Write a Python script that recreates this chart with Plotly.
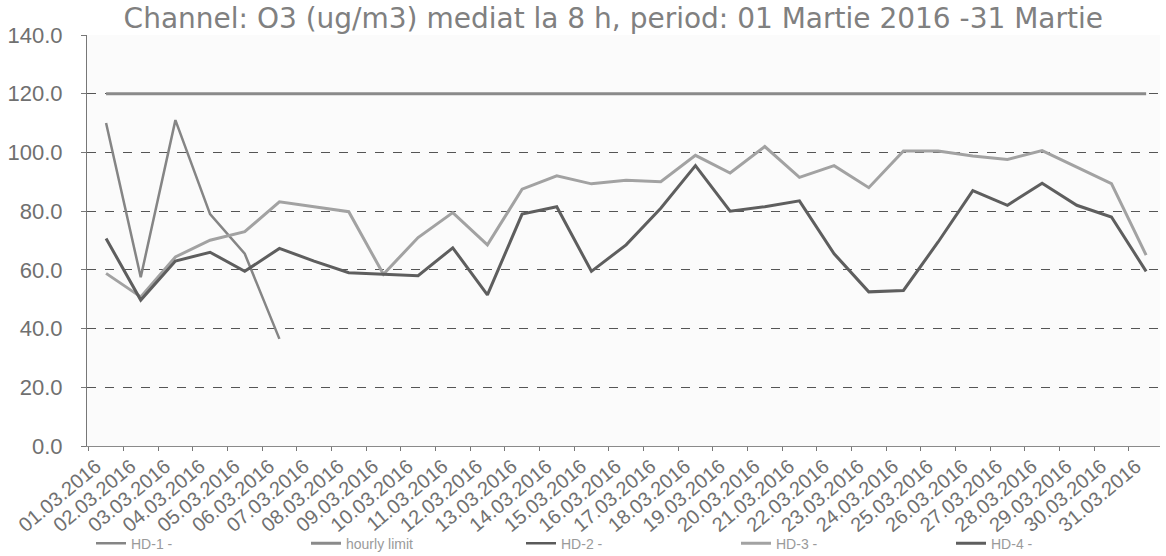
import plotly.graph_objects as go

# data
dates = ['01.03.2016', '02.03.2016', '03.03.2016', '04.03.2016', '05.03.2016',
         '06.03.2016', '07.03.2016', '08.03.2016', '09.03.2016', '10.03.2016',
         '11.03.2016', '12.03.2016', '13.03.2016', '14.03.2016', '15.03.2016',
         '16.03.2016', '17.03.2016', '18.03.2016', '19.03.2016', '20.03.2016',
         '21.03.2016', '22.03.2016', '23.03.2016', '24.03.2016', '25.03.2016',
         '26.03.2016', '27.03.2016', '28.03.2016', '29.03.2016', '30.03.2016',
         '31.03.2016']

hd1 = [110, 57.5, 111, 79, 65.5, 36.5] + [None] * 25

hourly_limit = [120, 120, 120, 120, 120, 120, 120, 120, 120, 120,
                120, 120, 120, 120, 120, 120, 120, 120, 120, 120,
                120, 120, 120, 120, 120, 120, 120, 120, 120, 120, 120]

hd2 = [None] * 31  # no values drawn for HD-2

hd3 = [58.8, 50.8, 64.4, 70.1, 73, 83.2, 81.5, 79.8, 58.5, 71,
       79.5, 68.5, 87.5, 92, 89.3, 90.5, 90, 99, 93, 102,
       91.5, 95.5, 88, 100.5, 100.5, 98.8, 97.6, 100.6, 95, 89.4, 65]

hd4 = [70.7, 49.7, 63, 66, 59.5, 67.3, 63, 59, 58.5, 58,
       67.5, 51.5, 79, 81.5, 59.5, 68.5, 81, 95.5, 80, 81.5,
       83.5, 65.5, 52.5, 53, 69.5, 87, 82, 89.5, 82, 78, 59.5]

y_ticks = [0, 20, 40, 60, 80, 100, 120, 140]

series = [
    ('HD-1 -', hd1, '#858585', 2.5),
    ('hourly limit', hourly_limit, '#8a8a8a', 3),
    ('HD-2 -', hd2, '#5a5a5a', 2.5),
    ('HD-3 -', hd3, '#a2a2a2', 3),
    ('HD-4 -', hd4, '#5e5e5e', 3),
]

data = []
for name, vals, col, w in series:
    data.append(go.Scatter(x=dates, y=vals, mode='lines', name=name,
                           line=dict(color=col, width=w),
                           connectgaps=False, showlegend=True))

layout = go.Layout(
    width=1166, height=556,
    margin=dict(l=87, r=6, t=35, b=110),
    paper_bgcolor='white',
    plot_bgcolor='#fbfbfb',
    font=dict(family='Liberation Sans, Arial, sans-serif', color='#6a6a6a'),
    title=dict(text='Channel: O3 (ug/m3) mediat la 8 h, period: 01 Martie 2016 -31 Martie',
               x=0.526, xref='container', xanchor='center',
               y=0.967, yref='container', yanchor='middle',
               font=dict(family='DejaVu Sans, Verdana, sans-serif', size=28, color='#808080')),
    xaxis=dict(type='category', range=[-0.55, 30.4], automargin=False,
               tickangle=-40, tickfont=dict(size=20, color='#707070'),
               ticklabelshift=-10,
               showgrid=False, showline=True, linecolor='#8a8a8a', linewidth=1,
               ticks='outside', ticklen=4, tickcolor='#777', tickson='boundaries'),
    yaxis=dict(range=[0, 140], tickvals=y_ticks, tickformat='.1f', automargin=False,
               tickfont=dict(size=22, color='#707070'), ticklabelstandoff=14,
               showgrid=True, gridcolor='#555555', gridwidth=1, griddash='dash',
               showline=True, linecolor='#777777', linewidth=1,
               ticks='outside', ticklen=5, tickcolor='#777', zeroline=False),
    legend=dict(orientation='h', x=0.018, xanchor='left',
                y=0.022, yref='container', yanchor='middle',
                entrywidth=170, entrywidthmode='pixels',
                font=dict(size=14, color='#9a9a9a'), bgcolor='rgba(0,0,0,0)'),
)

fig = go.Figure(data=data, layout=layout)
fig.write_html('out.html', config={'displayModeBar': False},
               post_script="document.body.style.margin='0';")
